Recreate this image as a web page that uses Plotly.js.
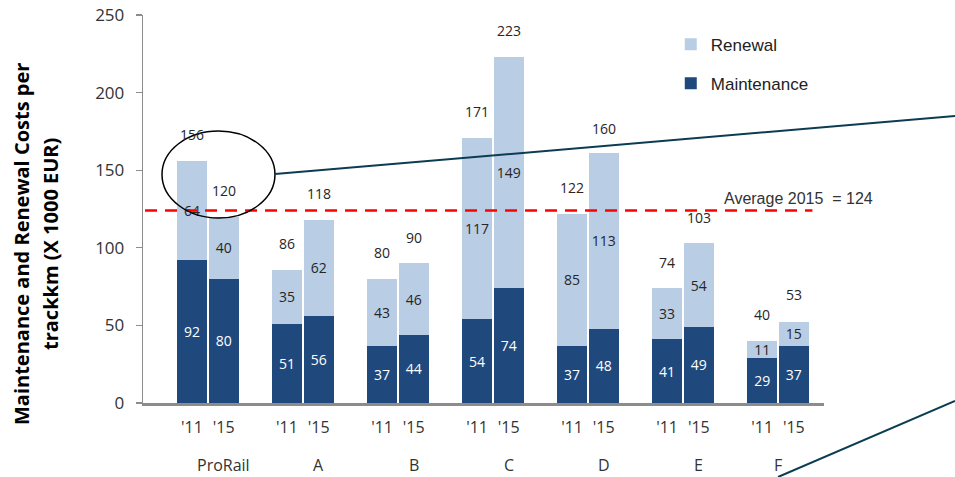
<!DOCTYPE html>
<html>
<head>
<meta charset="utf-8">
<script src="https://cdn.plot.ly/plotly-3.0.1.min.js"></script>
<style>
  html, body { margin: 0; padding: 0; background: #ffffff; }
  #chart { width: 955px; height: 477px; }
</style>
</head>
<body>
<div id="chart"></div>
<script>
// ---- data ----
const categories = ['ProRail', 'A', 'B', 'C', 'D', 'E', 'F'];
const yearLabels = ["'11", "'15"];
const maintenance2011 = [92, 51, 37, 54, 37, 41, 29];
const maintenance2015 = [80, 56, 44, 74, 48, 49, 37];
const renewal2011 = [64, 35, 43, 117, 85, 33, 11];
const renewal2015 = [40, 62, 46, 149, 113, 54, 15];
const total2011 = [156, 86, 80, 171, 122, 74, 40];
const total2015 = [120, 118, 90, 223, 160, 103, 53];
const average2015 = 124;
const averageLabel = 'Average 2015  = 124';
const seriesNames = ['Maintenance', 'Renewal'];
const yTitleLines = ['Maintenance and Renewal Costs per', 'trackkm (X 1000 EUR)'];

// ---- build bar positions (two bars per category, one empty slot between groups) ----
const xPos = [], maintVals = [], renewVals = [], totals = [], tickText = [];
categories.forEach((c, i) => {
  [0, 1].forEach(j => {
    xPos.push(i * 3 + j);
    maintVals.push(j === 0 ? maintenance2011[i] : maintenance2015[i]);
    renewVals.push(j === 0 ? renewal2011[i] : renewal2015[i]);
    totals.push(j === 0 ? total2011[i] : total2015[i]);
    tickText.push(yearLabels[j]);
  });
});

const darkBlue = '#1f497d';
const lightBlue = '#b9cde5';
const textDark = '#262626';
const axisGray = '#8c8c8c';
const labelFont = 'Open Sans, sans-serif';

const traces = [
  {
    type: 'bar', name: seriesNames[0], x: xPos, y: maintVals,
    marker: { color: darkBlue, line: { width: 0 } },
    width: 0.95,
    text: maintVals.map(String), textposition: 'inside', insidetextanchor: 'middle',
    textangle: 0, constraintext: 'none',
    textfont: { color: '#ffffff', size: 14, family: labelFont },
    hoverinfo: 'skip', legendgroup: 'm', legendrank: 2
  },
  {
    type: 'bar', name: seriesNames[1], x: xPos, y: renewVals,
    marker: { color: lightBlue, line: { width: 0 } },
    width: 0.95,
    text: renewVals.map(String), textposition: 'inside', insidetextanchor: 'middle',
    textangle: 0, constraintext: 'none',
    textfont: { color: textDark, size: 14, family: labelFont },
    hoverinfo: 'skip', legendgroup: 'r', legendrank: 1
  }
];

const annotations = [];
// totals above bars
xPos.forEach((x, k) => {
  annotations.push({
    x: x, y: totals[k], xref: 'x', yref: 'y', text: String(totals[k]),
    showarrow: false, yshift: 26, yanchor: 'middle',
    font: { size: 14, color: textDark, family: labelFont }
  });
});
// category names
categories.forEach((c, i) => {
  const off = (i === categories.length - 1) ? 0.5 : 1;
  annotations.push({
    x: i * 3 + off, y: 0, xref: 'x', yref: 'paper', text: c,
    showarrow: false, yshift: -62, yanchor: 'middle',
    font: { size: 16, color: '#333333', family: labelFont }
  });
});
// average label
annotations.push({
  x: 0.9626, y: average2015, xref: 'paper', yref: 'y', text: averageLabel,
  showarrow: false, yshift: 12, yanchor: 'middle', xanchor: 'center',
  font: { size: 16, color: '#333333', family: 'Liberation Sans, Arial, sans-serif' }
});
// y axis title (two lines)
[[yTitleLines[0], 21], [yTitleLines[1], 50]].forEach(([t, px]) => {
  annotations.push({
    x: (px - 143) / 681, y: (403 - 244) / 388, xref: 'paper', yref: 'paper',
    text: '<b>' + t + '</b>', textangle: -90, showarrow: false,
    xanchor: 'center', yanchor: 'middle',
    font: { size: 20, color: '#000000', family: labelFont }
  });
});

const shapes = [
  // average line
  { type: 'line', xref: 'paper', yref: 'y', x0: 0.003, x1: 0.983, y0: average2015, y1: average2015,
    line: { color: '#ff0000', width: 2.5, dash: '12px,8px' } },
  // ellipse around ProRail
  { type: 'circle', xref: 'paper', yref: 'paper', x0: 0.0279, x1: 0.1938, y0: 0.4768, y1: 0.701,
    line: { color: '#000000', width: 1.5 }, layer: 'above' },
  // callout lines
  { type: 'line', xref: 'paper', yref: 'paper', x0: 0.1938, y0: 0.590, x1: 1.1924, y1: 0.7397,
    line: { color: '#0b3d52', width: 2 } },
  { type: 'line', xref: 'paper', yref: 'paper', x0: 0.9325, y0: -0.1907, x1: 1.1924, y1: 0.0052,
    line: { color: '#0b3d52', width: 2 } }
];

const layout = {
  width: 955, height: 477,
  margin: { l: 143, r: 131, t: 15, b: 74 },
  paper_bgcolor: '#ffffff', plot_bgcolor: '#ffffff',
  barmode: 'stack', bargap: 0,
  showlegend: true,
  legend: {
    x: 0.775, y: 0.97, xanchor: 'left', yanchor: 'top',
    traceorder: 'grouped', tracegroupgap: 14,
    font: { size: 17, color: '#222222', family: 'Liberation Sans, Arial, sans-serif' },
    bgcolor: 'rgba(0,0,0,0)'
  },
  xaxis: {
    range: [-1.547, 19.953], fixedrange: true,
    tickmode: 'array', tickvals: xPos, ticktext: tickText,
    ticks: '', showgrid: false, zeroline: false,
    showline: true, linecolor: axisGray, linewidth: 2.5,
    tickfont: { size: 16, color: '#333333', family: labelFont },
    ticklabelstandoff: 8
  },
  yaxis: {
    range: [0, 250], fixedrange: true,
    tickmode: 'array', tickvals: [0, 50, 100, 150, 200, 250],
    ticks: 'outside', ticklen: 6, tickcolor: axisGray, tickwidth: 1.3,
    showgrid: false, zeroline: false,
    showline: true, linecolor: axisGray, linewidth: 1.3,
    tickfont: { size: 17, color: '#333333', family: labelFont },
    ticklabelstandoff: 8
  },
  annotations: annotations,
  shapes: shapes
};

Plotly.newPlot('chart', traces, layout, { staticPlot: true, displayModeBar: false });
</script>
</body>
</html>
